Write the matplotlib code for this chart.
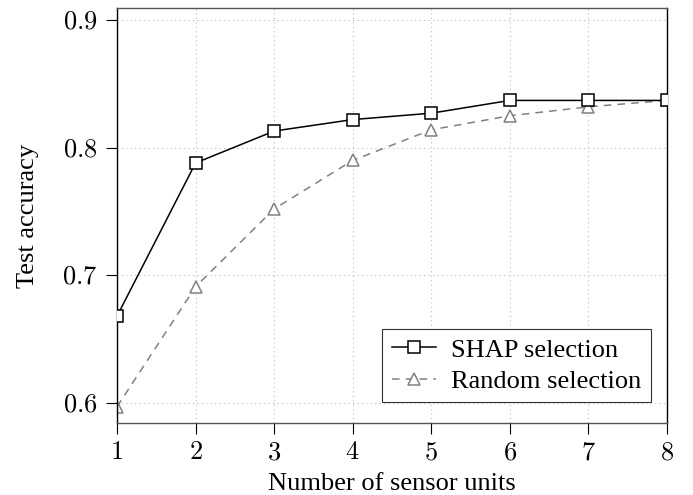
import numpy as np
from matplotlib import pyplot as plt
from matplotlib.ticker import FuncFormatter

plt.rcParams["font.family"] = ["Liberation Serif", "DejaVu Serif"]
plt.rcParams["mathtext.fontset"] = "cm"

units = [1, 2, 3, 4, 5, 6, 7, 8]
shap_acc = [0.668, 0.788, 0.813, 0.822, 0.827, 0.837, 0.837, 0.837]
random_acc = [0.597, 0.691, 0.752, 0.790, 0.814, 0.825, 0.832, 0.837]
y_ticks = [0.6, 0.7, 0.8, 0.9]

fig = plt.figure(figsize=(6.93, 4.95), dpi=100)
ax = fig.add_axes([117 / 693, 1 - 423 / 495, 550 / 693, 415 / 495])

ax.plot(units, shap_acc, color="black", linewidth=1.1, marker="s", markersize=8.5,
        markerfacecolor="white", markeredgecolor="black", markeredgewidth=1.1,
        label="SHAP selection", zorder=3)
ax.plot(units, random_acc, color="#808080", linewidth=1.1, linestyle=(0, (5, 4)),
        marker="^", markersize=9, markerfacecolor="white", markeredgecolor="#808080",
        markeredgewidth=1.1, label="Random selection", zorder=2)

ax.set_xlim(1, 8)
ax.set_ylim(0.5843, 0.9094)
ax.set_xticks(units)
ax.set_yticks(y_ticks)
fmt = FuncFormatter(lambda v, p: "$%g$" % v)
ax.xaxis.set_major_formatter(fmt)
ax.yaxis.set_major_formatter(fmt)
ax.tick_params(axis="both", direction="out", length=8, width=0.8, labelsize=19, colors="black")
ax.tick_params(axis="x", pad=6)
ax.tick_params(axis="y", pad=6)

ax.grid(True, color="#bbbbbb", linestyle=(0, (1, 3)), linewidth=0.8)
ax.set_axisbelow(True)

for side in ["left", "right"]:
    ax.spines[side].set_color("black")
    ax.spines[side].set_linewidth(1.0)
for side in ["top", "bottom"]:
    ax.spines[side].set_color("#555555")
    ax.spines[side].set_linewidth(1.0)

ax.set_xlabel("Number of sensor units", fontsize=19, labelpad=6)
ax.set_ylabel("Test accuracy", fontsize=19, labelpad=17)

leg = ax.legend(loc="lower right", bbox_to_anchor=(0.97, 0.05), fontsize=19,
                fancybox=False, framealpha=1, edgecolor="#333333",
                handlelength=1.7, handletextpad=0.55, borderpad=0.35, labelspacing=0.3,
                borderaxespad=0)
leg.get_frame().set_linewidth(0.8)

fig.savefig("out.png", dpi=100)
